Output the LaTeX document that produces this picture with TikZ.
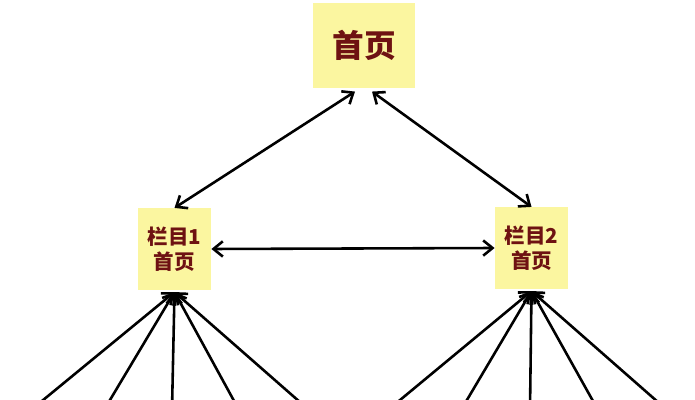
\documentclass[tikz,border=0pt]{standalone}
\usepackage{fontspec}
\newfontfamily\cjk{Noto Sans CJK SC}
\usetikzlibrary{arrows.meta}
\definecolor{PageYellow}{RGB}{251,246,160}
\definecolor{TextRed}{RGB}{110,18,18}
\tikzset{
  homebox/.style={fill=PageYellow,minimum width=3.06cm,minimum height=2.55cm,
    align=center,text=TextRed,font=\cjk\bfseries\fontsize{27}{30}\selectfont},
  colbox/.style={fill=PageYellow,minimum width=2.2cm,minimum height=2.45cm,
    align=center,text=TextRed,font=\cjk\bfseries\fontsize{17.5}{21}\selectfont},
  arrow/.style={{Straight Barb[length=8pt,width=13pt]}-{Straight Barb[length=8pt,width=13pt]},
    line width=2.2pt,black},
  fan/.style={-{Straight Barb[length=8pt,width=13pt]},line width=2.2pt,black}
}
\begin{document}
\begin{tikzpicture}[x=0.03cm,y=-0.03cm]
  \clip (0,0) rectangle (695,400);
  \fill[white] (0,0) rectangle (695,400);
  \node[homebox] (home) at (364,45.5) {首页};
  \node[colbox] (col1) at (174.5,249) {栏目1\\首页};
  \node[colbox] (col2) at (531.5,248) {栏目2\\首页};
  \draw[arrow] ([xshift=-0.27cm,yshift=-0.1cm]home.south) -- (col1.north);
  \draw[arrow] ([xshift=0.24cm,yshift=-0.1cm]home.south) -- (col2.north);
  \draw[arrow] (col1.east) -- (col2.west);
  % pages below each column
  \foreach \x [count=\i] in {31,104,172,239,309}
    \coordinate (a\i) at (\x,410);
  \foreach \x [count=\i] in {388,461,530,598,667}
    \coordinate (b\i) at (\x,410);
  \foreach \i in {1,...,5} {
    \draw[fan] (a\i) -- ([yshift=-0.06cm]col1.south);
    \draw[fan] (b\i) -- ([yshift=-0.06cm]col2.south);
  }
\end{tikzpicture}
\end{document}
